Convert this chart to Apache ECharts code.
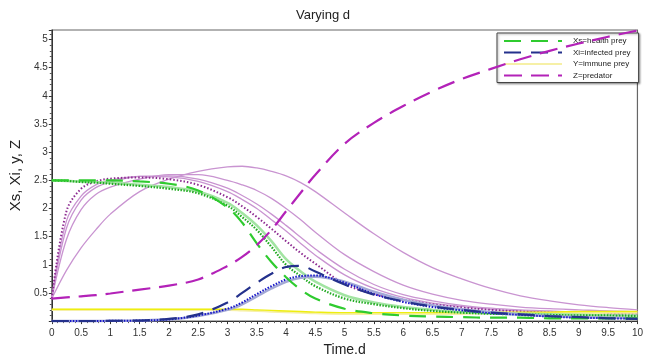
<!DOCTYPE html>
<html><head><meta charset="utf-8">
<script src="https://cdn.jsdelivr.net/npm/echarts@6/dist/echarts.min.js"></script>
<style>html,body{margin:0;padding:0;background:#fff}#c{width:646px;height:362px}</style>
</head><body><div id="c"></div>
<script>
// time samples (Time.d)
const time = [0, 0.25, 0.5, 0.75, 1, 1.5, 2, 2.5, 3, 3.25, 3.5, 3.75, 4, 4.25, 4.5, 5, 5.5, 6, 6.5, 7, 7.5, 8, 8.5, 9, 9.5, 10];

// Z = predator (main dashed run) and other d runs
const zDash = [0.4, 0.42, 0.44, 0.46, 0.49, 0.56, 0.63, 0.74, 0.98, 1.14, 1.35, 1.62, 1.95, 2.28, 2.6, 3.15, 3.52, 3.82, 4.08, 4.3, 4.48, 4.65, 4.8, 4.93, 5.05, 5.16];
const zDot  = [0.4, 1.95, 2.35, 2.48, 2.53, 2.55, 2.52, 2.42, 2.2, 2.04, 1.85, 1.64, 1.42, 1.21, 1.02, 0.66, 0.48, 0.38, 0.3, 0.24, 0.2, 0.17, 0.15, 0.14, 0.13, 0.12];
const zA    = [0.4, 1.78, 2.22, 2.42, 2.5, 2.57, 2.56, 2.48, 2.3, 2.16, 2.0, 1.8, 1.6, 1.38, 1.17, 0.82, 0.58, 0.42, 0.32, 0.26, 0.21, 0.18, 0.16, 0.15, 0.14, 0.13];
const zB    = [0.4, 1.65, 2.15, 2.37, 2.47, 2.57, 2.58, 2.52, 2.36, 2.23, 2.08, 1.9, 1.7, 1.49, 1.28, 0.92, 0.65, 0.47, 0.36, 0.28, 0.23, 0.2, 0.18, 0.16, 0.15, 0.14];
const zC    = [0.4, 1.45, 1.98, 2.25, 2.38, 2.52, 2.6, 2.6, 2.5, 2.42, 2.32, 2.18, 2.0, 1.8, 1.58, 1.18, 0.88, 0.64, 0.48, 0.37, 0.3, 0.25, 0.22, 0.2, 0.18, 0.17];
const zD    = [0.4, 0.9, 1.3, 1.62, 1.9, 2.3, 2.52, 2.66, 2.74, 2.75, 2.72, 2.66, 2.58, 2.46, 2.3, 1.92, 1.55, 1.22, 0.95, 0.75, 0.58, 0.45, 0.36, 0.29, 0.24, 0.2];

// Xs = health prey
const xsDash = [2.5, 2.5, 2.5, 2.5, 2.5, 2.48, 2.44, 2.32, 2.02, 1.75, 1.38, 1.05, 0.78, 0.56, 0.4, 0.22, 0.14, 0.1, 0.08, 0.07, 0.06, 0.06, 0.05, 0.05, 0.05, 0.05];
const xsDot  = [2.5, 2.49, 2.47, 2.46, 2.44, 2.4, 2.35, 2.27, 2.05, 1.85, 1.62, 1.32, 1.0, 0.8, 0.62, 0.4, 0.3, 0.23, 0.18, 0.15, 0.13, 0.12, 0.11, 0.1, 0.1, 0.09];
const xsLight = [2.5, 2.49, 2.48, 2.47, 2.46, 2.42, 2.38, 2.3, 2.1, 1.92, 1.7, 1.42, 1.1, 0.88, 0.7, 0.46, 0.33, 0.25, 0.2, 0.16, 0.14, 0.13, 0.12, 0.11, 0.1, 0.1];

// Xi = infected prey
const xiDash = [0, 0, 0, 0, 0.005, 0.01, 0.04, 0.12, 0.33, 0.5, 0.68, 0.84, 0.96, 0.98, 0.88, 0.65, 0.47, 0.35, 0.26, 0.2, 0.15, 0.12, 0.09, 0.07, 0.05, 0.04];
const xiDot  = [0, 0, 0, 0, 0.005, 0.01, 0.03, 0.1, 0.22, 0.33, 0.48, 0.62, 0.74, 0.8, 0.81, 0.68, 0.48, 0.34, 0.25, 0.19, 0.14, 0.11, 0.08, 0.06, 0.05, 0.04];
const xiLight = [0, 0, 0, 0, 0.005, 0.01, 0.03, 0.09, 0.2, 0.3, 0.44, 0.58, 0.7, 0.77, 0.79, 0.7, 0.52, 0.38, 0.28, 0.21, 0.16, 0.12, 0.09, 0.07, 0.06, 0.05];

// Y = immune prey
const yMain = [0.21, 0.21, 0.21, 0.21, 0.21, 0.21, 0.21, 0.21, 0.21, 0.21, 0.2, 0.19, 0.18, 0.17, 0.16, 0.15, 0.15, 0.15, 0.15, 0.15, 0.16, 0.16, 0.16, 0.17, 0.17, 0.17];
const yPale = [0.2, 0.2, 0.2, 0.2, 0.2, 0.2, 0.2, 0.2, 0.2, 0.19, 0.18, 0.17, 0.16, 0.15, 0.14, 0.13, 0.13, 0.13, 0.13, 0.13, 0.14, 0.14, 0.14, 0.14, 0.15, 0.15];

const legendNames = ['Xs=health prey', 'Xi=infected prey', 'Y=immune prey', 'Z=predator'];

const pts = a => time.map((t, i) => [t, a[i]]);
function line(name, arr, color, width, type, z) {
  return { name, type: 'line', data: pts(arr), smooth: 0.35, symbol: 'none', z: z || 2,
    lineStyle: { color, width, type }, itemStyle: { color }, emphasis: { disabled: true } };
}

const series = [
  line('zD', zD, '#c994d1', 1.3, 'solid'),
  line('zC', zC, '#c994d1', 1.3, 'solid'),
  line('zB', zB, '#c994d1', 1.3, 'solid'),
  line('zA', zA, '#c994d1', 1.3, 'solid'),
  line('zDot', zDot, '#8c2a90', 2, [1.5, 2]),
  line(legendNames[2], yPale, '#f6f0a6', 2.2, 'solid'),
  line('yMain', yMain, '#eeee10', 1.4, 'solid'),
  line('xsLight', xsLight, '#a2e4a2', 2.6, 'solid'),
  line('xsDot', xsDot, '#20aa20', 2.2, [1.5, 1.5]),
  line(legendNames[0], xsDash, '#2fcb2f', 2.2, [17, 10], 3),
  line('xiLight', xiLight, '#a3a8d6', 2.6, 'solid'),
  line('xiDot', xiDot, '#1414c8', 2, [1.5, 1.5]),
  line(legendNames[1], xiDash, '#24318c', 2.2, [17, 10], 3),
  line(legendNames[3], zDash, '#b322b8', 2.2, [18, 9], 4)
];

const chart = echarts.init(document.getElementById('c'), null, { renderer: 'canvas' });
chart.setOption({
  animation: false,
  backgroundColor: '#fff',
  title: { text: 'Varying d', left: 'center', top: 4,
    textStyle: { fontFamily: 'Liberation Sans, Arial', fontSize: 13, fontWeight: 'normal', color: '#222' } },
  grid: { left: 43, right: 5, top: 30, bottom: 36, show: true, borderColor: '#666', borderWidth: 1.2 },
  legend: {
    data: legendNames, orient: 'vertical', left: 497, top: 33,
    padding: [4, 8, 3, 6], itemWidth: 58, itemHeight: 8, itemGap: 3.5,
    backgroundColor: '#fff', borderColor: '#444', borderWidth: 1,
    shadowBlur: 2, shadowColor: 'rgba(0,0,0,0.35)', shadowOffsetX: 1, shadowOffsetY: 1,
    itemStyle: { opacity: 0 },
    textStyle: { fontFamily: 'Liberation Sans Narrow, Liberation Sans, Arial', fontSize: 8, color: '#222', padding: [0, 0, 0, 6] },
    selectedMode: false
  },
  xAxis: {
    type: 'value', min: 0, max: 10, interval: 0.5,
    name: 'Time.d', nameLocation: 'middle', nameGap: 21,
    nameTextStyle: { fontFamily: 'Liberation Sans, Arial', fontSize: 14, color: '#222' },
    axisLine: { show: true, lineStyle: { color: '#333', width: 1 } },
    axisTick: { show: true, length: 3, lineStyle: { color: '#333' } },
    minorTick: { show: true, splitNumber: 5, length: 2, lineStyle: { color: '#555' } },
    splitLine: { show: false },
    axisLabel: { fontFamily: 'Liberation Sans, Arial', fontSize: 10, color: '#333', margin: 7 }
  },
  yAxis: {
    type: 'value', min: 0, max: 5.17, interval: 0.5,
    name: 'Xs, Xi, y, Z', nameLocation: 'middle', nameGap: 22,
    nameTextStyle: { fontFamily: 'Liberation Sans, Arial', fontSize: 15, color: '#222' },
    axisLine: { show: true, lineStyle: { color: '#333', width: 1 } },
    axisTick: { show: true, length: 3, lineStyle: { color: '#333' } },
    minorTick: { show: true, splitNumber: 5, length: 2, lineStyle: { color: '#555' } },
    splitLine: { show: false },
    axisLabel: { fontFamily: 'Liberation Sans, Arial', fontSize: 10, color: '#333', margin: 4,
      formatter: v => (v > 0.01 && Math.abs(v * 2 - Math.round(v * 2)) < 1e-6) ? String(v) : '' }
  },
  series
});
</script>
</body></html>
